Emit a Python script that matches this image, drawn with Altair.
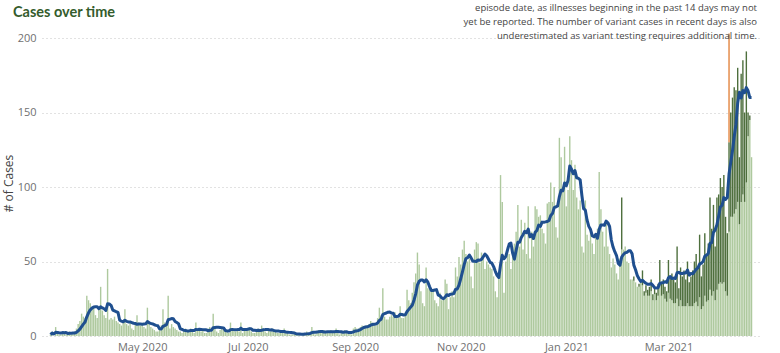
import altair as alt
import pandas as pd

START = "2020-03-09"  # Monday; one row per week (Mon..Sun)
weekly_totals = [
    [1, 3, 0, 6, 2, 1, 1],          # Mar 9
    [3, 2, 1, 2, 3, 1, 2],          # Mar 16
    [3, 5, 8, 10, 15, 13, 12],      # Mar 23
    [27, 24, 22, 18, 20, 14, 12],   # Mar 30
    [18, 33, 17, 14, 12, 45, 11],   # Apr 6
    [12, 11, 13, 10, 9, 8, 7],      # Apr 13
    [9, 18, 8, 7, 9, 5, 4],         # Apr 20
    [8, 14, 9, 7, 8, 6, 5],         # Apr 27
    [19, 8, 6, 5, 4, 3, 3],         # May 4
    [5, 7, 18, 9, 8, 27, 5],        # May 11
    [8, 6, 5, 4, 3, 3, 2],          # May 18
    [4, 5, 3, 4, 5, 3, 2],          # May 25
    [9, 4, 5, 3, 4, 2, 2],          # Jun 1
    [5, 6, 5, 15, 5, 3, 2],         # Jun 8
    [4, 5, 4, 3, 3, 2, 9],          # Jun 15
    [5, 4, 3, 4, 3, 9, 2],          # Jun 22
    [5, 4, 5, 6, 3, 2, 2],          # Jun 29
    [4, 5, 4, 7, 5, 3, 2],          # Jul 6
    [4, 3, 5, 4, 3, 2, 2],          # Jul 13
    [2, 3, 5, 2, 2, 1, 1],          # Jul 20
    [1, 2, 1, 1, 2, 0, 1],          # Jul 27
    [2, 3, 2, 2, 6, 2, 1],          # Aug 3
    [3, 4, 3, 2, 4, 2, 2],          # Aug 10
    [3, 4, 3, 2, 5, 2, 1],          # Aug 17
    [3, 2, 4, 3, 2, 2, 1],          # Aug 24
    [5, 6, 5, 5, 6, 7, 6],          # Aug 31
    [7, 7, 8, 10, 9, 8, 7],         # Sep 7
    [12, 19, 14, 32, 13, 11, 11],   # Sep 14
    [13, 14, 13, 16, 14, 12, 20],   # Sep 21
    [12, 12, 14, 31, 24, 22, 29],   # Sep 28
    [36, 42, 56, 48, 30, 22, 20],   # Oct 5
    [46, 32, 34, 30, 30, 24, 22],   # Oct 12
    [20, 29, 24, 26, 38, 35, 18],   # Oct 19
    [26, 30, 26, 46, 40, 53, 48],   # Oct 26
    [58, 64, 55, 50, 52, 40, 32],   # Nov 2
    [58, 63, 62, 49, 56, 52, 45],   # Nov 9
    [50, 48, 46, 45, 40, 30, 26],   # Nov 16
    [40, 108, 90, 29, 50, 60, 55],  # Nov 23
    [45, 60, 62, 70, 88, 60, 78],   # Nov 30
    [58, 76, 55, 87, 52, 70, 60],   # Dec 7
    [87, 85, 80, 81, 72, 69, 62],   # Dec 14
    [89, 90, 103, 90, 100, 73, 66], # Dec 21
    [133, 120, 100, 127, 87, 98, 134],  # Dec 28
    [118, 98, 115, 93, 85, 91, 60], # Jan 4
    [56, 91, 68, 64, 70, 62, 55],   # Jan 11
    [68, 72, 110, 85, 70, 60, 75],  # Jan 18
    [60, 55, 46, 52, 48, 42, 38],   # Jan 25
    [52, 93, 58, 60, 50, 49, 38],   # Feb 1
    [38, 40, 36, 33, 35, 36, 44],   # Feb 8
    [30, 34, 31, 33, 38, 28, 33],   # Feb 15
    [29, 35, 51, 36, 38, 33, 30],   # Feb 22
    [51, 40, 42, 38, 36, 60, 32],   # Mar 1
    [46, 40, 44, 38, 50, 36, 40],   # Mar 8
    [44, 50, 55, 45, 68, 40, 48],   # Mar 15
    [69, 55, 62, 93, 72, 88, 60],   # Mar 22
    [93, 95, 106, 100, 108, 80, 69],    # Mar 29
    [203, 150, 160, 167, 165, 180, 120],  # Apr 5
    [176, 185, 150, 191, 150, 148, 120],  # Apr 12
]

VARIANT_FIRST_WEEK = 47  # variant counts start with the week of Feb 1, 2021
variant_weeks = [
    [0, 35, 0, 0, 0, 0, 0],
    [0, 3, 0, 0, 2, 0, 10],
    [3, 5, 4, 6, 8, 4, 5],
    [5, 8, 15, 9, 10, 8, 7],
    [22, 15, 18, 16, 14, 35, 12],
    [22, 20, 24, 18, 28, 16, 20],
    [24, 28, 32, 25, 42, 22, 28],
    [42, 32, 38, 62, 45, 58, 36],
    [62, 60, 70, 65, 72, 50, 42],
    [60, 70, 80, 85, 80, 90, 45],
    [86, 90, 60, 88, 16, 3, 0],
]

other_dates = ["2021-04-05"]
other_values = [73]

note_lines = [
    "episode date, as illnesses beginning in the past 14 days may not",
    "yet be reported. The number of variant cases in recent days is also",
    "underestimated as variant testing requires additional time.",
]
title_text = "Cases over time"
x_label_dates = [(2020, 5), (2020, 7), (2020, 9), (2020, 11), (2021, 1), (2021, 3)]

LIGHT = "#aec99e"
DARK = "#4e6f3d"
ORANGE = "#e3843f"
NAVY = "#1f4f8f"
FONT = "Open Sans"

totals = [v for w in weekly_totals for v in w]
variant = [0] * (7 * VARIANT_FIRST_WEEK) + [v for w in variant_weeks for v in w]
dates = pd.date_range(START, periods=len(totals), freq="D")
date_str = [d.strftime("%Y-%m-%d") for d in dates]
other = [other_values[other_dates.index(s)] if s in other_dates else 0 for s in date_str]

df = pd.DataFrame({"date": dates, "total": totals, "variant": variant, "other": other})
df["light"] = df["total"] - df["variant"] - df["other"]
df["vtop"] = df["light"] + df["variant"]

xscale = alt.Scale(domain=[alt.DateTime(year=2020, month=3, date=7),
                           alt.DateTime(year=2021, month=4, date=20)])
yscale = alt.Scale(domain=[0, 200], nice=False)

xaxis = alt.Axis(values=[alt.DateTime(year=y, month=m, date=1) for y, m in x_label_dates],
                 format="%b %Y", grid=False, domain=False, ticks=False, labelPadding=5,
                 labelColor="#707070", labelFontSize=11, labelFont=FONT, title=None)
yaxis = alt.Axis(values=[0, 50, 100, 150, 200], grid=True, gridDash=[1, 3], gridColor="#c4c4c4",
                 domain=False, ticks=False, labelPadding=6, labelColor="#707070", labelFontSize=11,
                 labelFont=FONT, title="# of Cases", titleX=-34, titleY=145, titleAngle=-90,
                 titleAlign="center", titleBaseline="middle", titleFontSize=12,
                 titleFontWeight="normal", titleColor="#444444", titleFont=FONT)

base = alt.Chart(df)
x_enc = alt.X("date:T", scale=xscale, axis=xaxis)

light = base.mark_bar(size=1.4, color=LIGHT).encode(
    x=x_enc, y=alt.Y("light:Q", scale=yscale, axis=yaxis))
dark = base.mark_bar(size=1.4, color=DARK).transform_filter("datum.variant > 0").encode(
    x=alt.X("date:T"), y=alt.Y("light:Q"), y2="vtop:Q")
orange = base.mark_bar(size=1.4, color=ORANGE).transform_filter("datum.other > 0").encode(
    x=alt.X("date:T"), y=alt.Y("vtop:Q"), y2="total:Q")
line = base.transform_window(
    avg="mean(total)", frame=[-6, 0], sort=[alt.SortField("date")]
).mark_line(color=NAVY, strokeWidth=3, strokeJoin="round").encode(
    x=alt.X("date:T"), y=alt.Y("avg:Q"))

title = alt.Chart(pd.DataFrame({"t": [title_text]})).mark_text(
    align="left", baseline="middle", fontSize=14.5, fontWeight="bold", font="Lato", color="#345c2c"
).encode(text="t:N", x=alt.value(-29), y=alt.value(-25))

note_layers = []
for i, txt in enumerate(note_lines):
    note_layers.append(
        alt.Chart(pd.DataFrame({"t": [txt]})).mark_text(
            align="right", baseline="middle", fontSize=9.5, font=FONT, color="#444444"
        ).encode(text="t:N", x=alt.value(715), y=alt.value(-30 + 14 * i))
    )

chart = alt.layer(light, dark, orange, line, title, *note_layers).properties(
    width=718, height=298, autosize="none",
    padding={"left": 42, "top": 38, "right": 20, "bottom": 17},
).configure_view(stroke=None)

chart.save("out.html", embed_options={"renderer": "svg", "actions": False})
